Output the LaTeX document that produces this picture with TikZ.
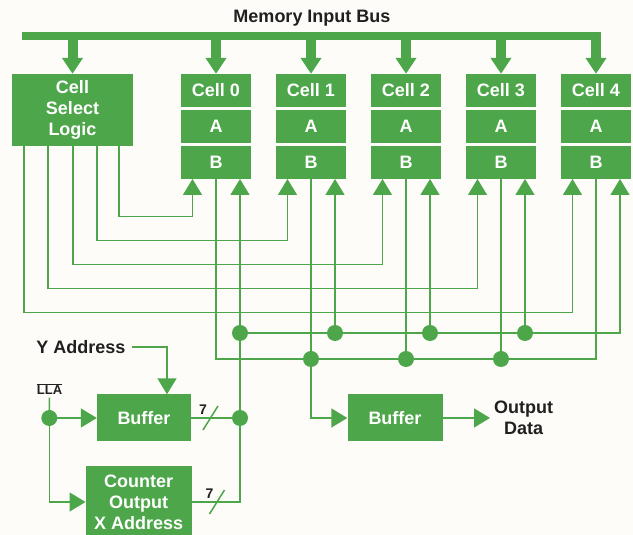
\documentclass[tikz,border=0pt]{standalone}
\usepackage{fontspec}
\setmainfont{Liberation Sans}
\usetikzlibrary{arrows.meta,positioning}
\definecolor{chipgreen}{HTML}{4DA64A}
\definecolor{inkdark}{HTML}{231F20}
\definecolor{paper}{HTML}{FDFCF8}
\newcommand{\bigbold}{\bfseries\fontsize{18}{21}\selectfont}
\tikzset{
  blockbox/.style={
    rectangle, fill=chipgreen, text=white,
    font=\bigbold, align=center, inner sep=0pt
  },
  cellbox/.style={blockbox, minimum width=70pt, minimum height=32.5pt},
  plainlabel/.style={text=inkdark, font=\bigbold, align=center, inner sep=0pt},
  smalllabel/.style={text=inkdark, font=\bfseries\fontsize{13}{15}\selectfont, inner sep=0pt},
  wire/.style={draw=chipgreen, line width=1.5pt},
  inarrow/.style={wire, -{Triangle[width=19pt,length=16pt]}},
  busline/.style={draw=chipgreen, line width=8pt},
  busarrow/.style={draw=chipgreen, line width=10pt, -{Triangle[width=20pt,length=16pt]}},
  junction/.style={circle, fill=chipgreen, minimum size=16pt, inner sep=0pt},
}

\begin{document}
\begin{tikzpicture}[x=1pt,y=1pt]
  \useasboundingbox (0,0) rectangle (633,535);
  \fill[paper] (0,0) rectangle (633,535);

  % bus and memory cells
  \node[plainlabel] (title) at (312,517) {Memory Input Bus};
  \coordinate (busl) at (22,499);
  \coordinate (busr) at (601,499);
  \draw[busline] (busl) -- (busr);

  \node[blockbox, minimum width=121pt, minimum height=72pt] (csl) at (72.5,425) {Cell\\Select\\Logic};
  \foreach \i/\x in {0/216,1/311,2/406,3/501,4/596} {
    \node[cellbox, minimum height=33pt] (cell\i) at (\x,444.5) {Cell \i};
    \node[cellbox, below=3pt of cell\i] (cella\i) {A};
    \node[cellbox, below=3pt of cella\i] (cellb\i) {B};
    \path ([xshift=24pt]cellb\i.south) coordinate (tip\i);
  }
  \foreach \n in {csl,cell0,cell1,cell2,cell3,cell4}
    \draw[busarrow] (\n.north |- busl) -- (\n.north);

  % select lines
  \foreach \k/\dx in {0/107,1/85,2/61,3/36,4/12}
    \draw[inarrow] ([xshift=\dx pt]csl.south west) -- ++(0,-70.5-24*\k) -| ([xshift=-23.5pt]cellb\k.south);

  \coordinate (rowin) at (0,202);
  \coordinate (rowout) at (0,176);

  % data out of the B rows
  \draw[wire] (cellb0.south) |- (rowout -| cellb4.south) -- (cellb4.south);
  \foreach \k in {1,2,3} {
    \node[junction] (outdot\k) at (cellb\k.south |- rowout) {};
    \draw[wire] (cellb\k.south) -- (outdot\k.center);
  }

  % address into the B rows
  \foreach \k in {0,1,2,3} {
    \node[junction] (indot\k) at (tip\k |- rowin) {};
    \draw[inarrow] (indot\k.center) -- (tip\k);
  }
  \draw[inarrow] (indot0.center) -| (tip4);

  % address side
  \node[plainlabel] (yaddr) at (81,188) {Y Address};
  \node[smalllabel] (lla) at (49.5,146) {$\overline{\hbox{LLA}}$};
  \node[blockbox, minimum width=94pt, minimum height=47pt] (ybuf) at (144,117) {Buffer};
  \node[blockbox, minimum width=106pt, minimum height=72pt] (cnt) at (138.7,33) {Counter\\Output\\X Address};
  \node[junction] (ldot) at (49.3,117) {};
  \node[junction] (xdot) at (indot0 |- ybuf) {};

  \draw[inarrow, shorten <=6pt] (yaddr.east) -| ([xshift=23pt]ybuf.north);
  \draw[wire, shorten <=3pt] (lla.south) -- (ldot.center);
  \draw[inarrow] (ldot.center) -- (ybuf.west);
  \draw[inarrow] (ldot.center) |- (cnt.west);
  \draw[wire] (indot0.center) -- (xdot.center);
  \draw[wire] (ybuf.east) -- (xdot.center);
  \draw[wire] (cnt.east) -| (xdot.center);

  \coordinate (slasha) at (210.5,117);
  \coordinate (slashb) at (217,33);
  \foreach \s in {slasha,slashb}
    \draw[wire] (\s) ++(-7.5,-12) -- ++(15,24);
  \node[smalllabel, font=\bfseries\fontsize{14}{16}\selectfont] (widtha) at (203,125) {7};
  \node[smalllabel, font=\bfseries\fontsize{14}{16}\selectfont] (widthb) at (209.5,41) {7};

  % data out
  \node[blockbox, minimum width=95pt, minimum height=47pt] (obuf) at (395,117) {Buffer};
  \node[plainlabel, anchor=west] (odata) at (494,117) {Output\\Data};
  \draw[inarrow] (outdot1.center) |- (obuf.west);
  \draw[inarrow, shorten >=4pt] (obuf.east) -- (odata.west);
\end{tikzpicture}
\end{document}
